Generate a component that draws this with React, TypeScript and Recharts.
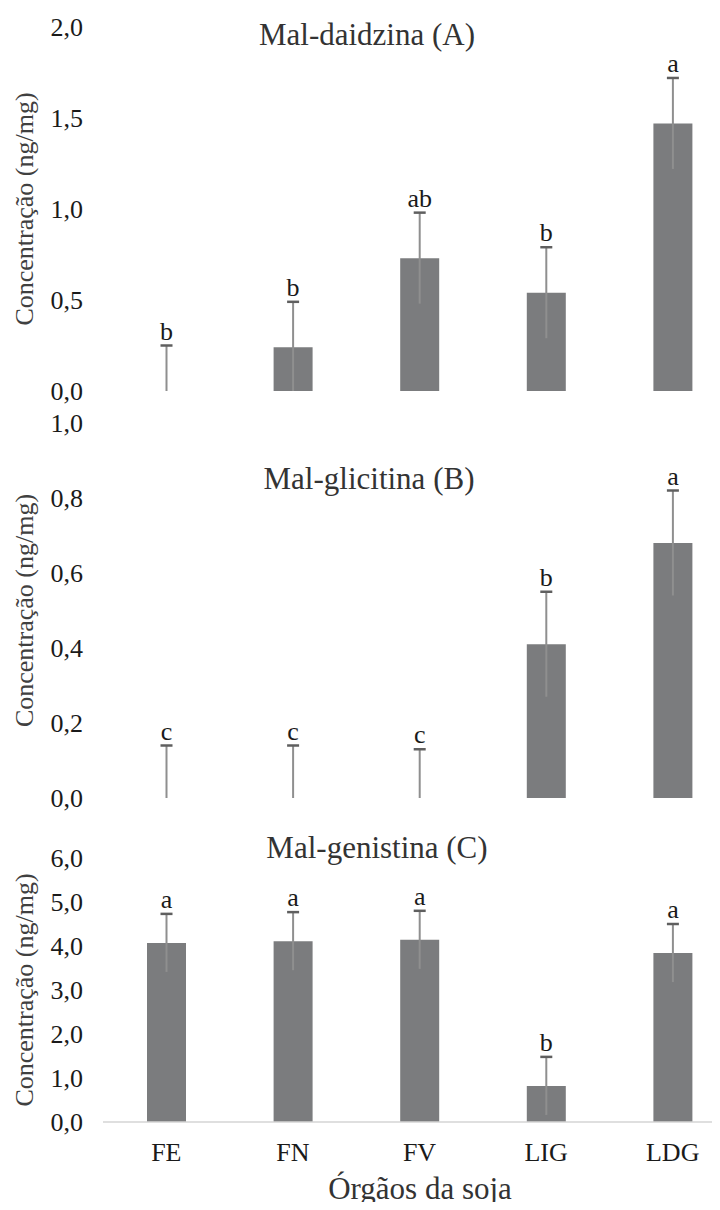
import { BarChart, Bar, XAxis, YAxis, LabelList } from "recharts";

const organs = ["FE", "FN", "FV", "LIG", "LDG"];

// Mal-daidzina (A)
const daidzina = [0, 0.24, 0.73, 0.54, 1.47];
const daidzinaErr = [0.25, 0.25, 0.25, 0.25, 0.25];
const daidzinaLetters = ["b", "b", "ab", "b", "a"];
const daidzinaTicks = [0, 0.5, 1, 1.5, 2];

// Mal-glicitina (B)
const glicitina = [0, 0, 0, 0.41, 0.68];
const glicitinaErr = [0.14, 0.14, 0.13, 0.14, 0.14];
const glicitinaLetters = ["c", "c", "c", "b", "a"];
const glicitinaTicks = [0, 0.2, 0.4, 0.6, 0.8, 1];

// Mal-genistina (C)
const genistina = [4.07, 4.11, 4.14, 0.82, 3.84];
const genistinaErr = [0.66, 0.66, 0.66, 0.66, 0.66];
const genistinaLetters = ["a", "a", "a", "b", "a"];
const genistinaTicks = [0, 1, 2, 3, 4, 5, 6];

const serif = '"Liberation Serif", "Times New Roman", serif';
const BAR = "#7b7c7e";

const buildRows = (means: number[], errs: number[], letters: string[]) =>
    organs.map((name, i) => ({
        name,
        value: means[i],
        range: [Math.max(0, means[i] - errs[i]), means[i] + errs[i]],
        letter: letters[i],
    }));

const fmt = (v: number) => v.toFixed(1).replace(".", ",");

const tickStyle = { fill: "#1a1a1a", fontSize: 26, style: { fontFamily: serif } };

// error bar: line over the whole range, cap only on top
const ErrorShape = (props: any) => {
    const { x, y, width, height } = props;
    const cx = x + width / 2;
    return (
        <g>
            <line x1={cx} x2={cx} y1={y} y2={y + height} stroke="#8f8f8f" strokeWidth={2} />
            <line x1={cx - 6} x2={cx + 6} y1={y} y2={y} stroke="#5f5f5f" strokeWidth={2.5} />
        </g>
    );
};

const Letter = (props: any) => (
    <text
        x={props.x + props.width / 2}
        y={props.y - 6}
        textAnchor="middle"
        fontSize={26}
        fill="#1a1a1a"
        style={{ fontFamily: serif }}
    >
        {props.value}
    </text>
);

const AxisTitle = (props: any) => {
    const vb = props.viewBox;
    const cy = vb.y + vb.height / 2;
    return (
        <text
            x={24}
            y={cy}
            transform={`rotate(-90 24 ${cy})`}
            textAnchor="middle"
            dominantBaseline="central"
            fontSize={26}
            fill="#404040"
            style={{ fontFamily: serif }}
        >
            Concentração (ng/mg)
        </text>
    );
};

interface PanelProps {
    rows: ReturnType<typeof buildRows>;
    top: number;
    height: number;
    marginTop: number;
    domain: [number, number];
    ticks: number[];
    showX?: boolean;
}

const Panel = ({ rows, top, height, marginTop, domain, ticks, showX }: PanelProps) => (
    <div style={{ position: "absolute", left: 0, top }}>
        <BarChart
            width={740}
            height={height}
            data={rows}
            margin={{ top: marginTop, right: 4, bottom: showX ? 0 : 18, left: 0 }}
            style={{ fontFamily: serif }}
        >
            <XAxis
                xAxisId="main"
                dataKey="name"
                hide={!showX}
                height={88}
                tickLine={false}
                tickMargin={15}
                axisLine={{ stroke: "#d4d4d4", strokeWidth: 1.5 }}
                tick={tickStyle}
            />
            <XAxis xAxisId="err" dataKey="name" hide height={0} />
            <YAxis
                width={103}
                domain={domain}
                ticks={ticks}
                interval={0}
                tickFormatter={fmt}
                tickLine={false}
                axisLine={false}
                tickMargin={14}
                tick={tickStyle}
                label={{ content: AxisTitle }}
            />
            <Bar xAxisId="main" dataKey="value" fill={BAR} barSize={39} isAnimationActive={false} />
            <Bar
                xAxisId="err"
                dataKey="range"
                barSize={39}
                shape={ErrorShape}
                isAnimationActive={false}
            >
                <LabelList dataKey="letter" content={Letter} />
            </Bar>
        </BarChart>
    </div>
);

const titleStyle = (left: number, top: number): React.CSSProperties => ({
    position: "absolute",
    left,
    top,
    transform: "translateX(-50%)",
    fontFamily: serif,
    fontSize: 31,
    lineHeight: "31px",
    color: "#333",
    whiteSpace: "nowrap",
});

export default function App() {
    return (
        <div
            style={{
                position: "relative",
                margin: -8,
                width: 720,
                height: 1210,
                overflow: "hidden",
                background: "#fff",
                fontFamily: serif,
            }}
        >
            <Panel
                rows={buildRows(daidzina, daidzinaErr, daidzinaLetters)}
                top={0}
                height={409}
                marginTop={27}
                domain={[0, 2]}
                ticks={daidzinaTicks}
            />
            <Panel
                rows={buildRows(glicitina, glicitinaErr, glicitinaLetters)}
                top={400}
                height={416}
                marginTop={23}
                domain={[0, 1]}
                ticks={glicitinaTicks}
            />
            <Panel
                rows={buildRows(genistina, genistinaErr, genistinaLetters)}
                top={830}
                height={380}
                marginTop={28}
                domain={[0, 6]}
                ticks={genistinaTicks}
                showX
            />
            <div style={titleStyle(367, 19)}>Mal-daidzina (A)</div>
            <div style={titleStyle(369, 463)}>Mal-glicitina (B)</div>
            <div style={titleStyle(377, 832)}>Mal-genistina (C)</div>
            <div style={titleStyle(420, 1173)}>Órgãos da soja</div>
        </div>
    );
}
